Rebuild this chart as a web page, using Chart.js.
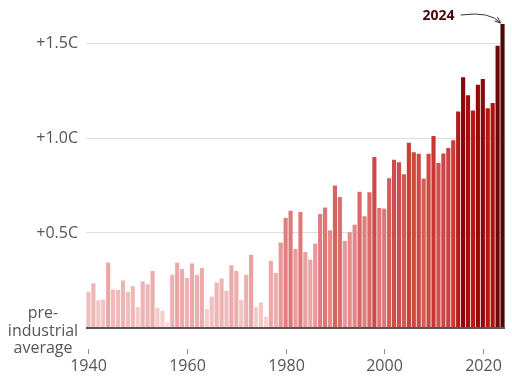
<!DOCTYPE html>
<html>
<head>
<meta charset="utf-8">
<script src="https://cdn.jsdelivr.net/npm/chart.js@4/dist/chart.umd.min.js"></script>
<style>
  body { margin: 0; background: #fff; }
  canvas { display: block; }
</style>
</head>
<body>
<canvas id="chart" width="512" height="379"></canvas>
<script>
// years 1940 - 2024
const years = [
    1940, 1941, 1942, 1943, 1944, 1945, 1946, 1947, 1948, 1949,
    1950, 1951, 1952, 1953, 1954, 1955, 1956, 1957, 1958, 1959,
    1960, 1961, 1962, 1963, 1964, 1965, 1966, 1967, 1968, 1969,
    1970, 1971, 1972, 1973, 1974, 1975, 1976, 1977, 1978, 1979,
    1980, 1981, 1982, 1983, 1984, 1985, 1986, 1987, 1988, 1989,
    1990, 1991, 1992, 1993, 1994, 1995, 1996, 1997, 1998, 1999,
    2000, 2001, 2002, 2003, 2004, 2005, 2006, 2007, 2008, 2009,
    2010, 2011, 2012, 2013, 2014, 2015, 2016, 2017, 2018, 2019,
    2020, 2021, 2022, 2023, 2024
];

// warming above pre-industrial average, degrees C
const anomaly = [
    0.19, 0.235, 0.146, 0.15, 0.344, 0.203, 0.20, 0.25, 0.19, 0.22,
    0.11, 0.245, 0.23, 0.30, 0.107, 0.09, 0.03, 0.28, 0.344, 0.31,
    0.263, 0.34, 0.28, 0.316, 0.10, 0.165, 0.24, 0.26, 0.195, 0.33,
    0.30, 0.147, 0.28, 0.385, 0.11, 0.135, 0.06, 0.353, 0.29, 0.45,
    0.58, 0.617, 0.416, 0.61, 0.40, 0.36, 0.444, 0.60, 0.634, 0.514,
    0.75, 0.69, 0.458, 0.504, 0.544, 0.717, 0.588, 0.714, 0.90, 0.632,
    0.628, 0.788, 0.886, 0.872, 0.809, 0.975, 0.925, 0.917, 0.787, 0.917,
    1.01, 0.868, 0.919, 0.947, 0.988, 1.14, 1.32, 1.225, 1.145, 1.28,
    1.31, 1.156, 1.184, 1.485, 1.60
];

const yTicks = [0, 0.5, 1.0, 1.5];
const yTickLabels = ['pre-\nindustrial\naverage', '+0.5C', '+1.0C', '+1.5C'];
const xTickYears = [1940, 1960, 1980, 2000, 2020];
const highlightYear = 2024;

// colour ramp by value
const rampStops = [
    [0.0, [249, 222, 222]],
    [0.2, [240, 186, 186]],
    [0.4, [233, 160, 160]],
    [0.6, [224, 124, 124]],
    [0.8, [212, 90, 87]],
    [1.0, [201, 58, 53]],
    [1.1, [197, 31, 21]],
    [1.2, [176, 16, 16]],
    [1.3, [143, 8, 8]],
    [1.5, [110, 6, 6]],
    [1.6, [78, 7, 7]]
];

const rampColor = (v) => {
    for (let i = 1; i < rampStops.length; i++) {
        const [v1, c1] = rampStops[i];
        const [v0, c0] = rampStops[i - 1];
        if (v <= v1) {
            const t = Math.max(0, (v - v0) / (v1 - v0));
            const c = c0.map((a, k) => Math.round(a + (c1[k] - a) * t));
            return `rgb(${c[0]},${c[1]},${c[2]})`;
        }
    }
    const c = rampStops[rampStops.length - 1][1];
    return `rgb(${c[0]},${c[1]},${c[2]})`;
};

const textColor = '#555555';
const fontFamily = '"Open Sans", "Noto Sans", sans-serif';

const labelsPlugin = {
    id: 'labels',
    afterDraw(chart) {
        const { ctx, scales: { x, y }, chartArea } = chart;
        ctx.save();
        ctx.fillStyle = textColor;
        ctx.font = `16px ${fontFamily}`;

        // y labels
        yTicks.forEach((v, i) => {
            const lines = yTickLabels[i].split('\n');
            const py = y.getPixelForValue(v);
            if (lines.length === 1) {
                ctx.textAlign = 'right';
                ctx.textBaseline = 'middle';
                ctx.fillText(lines[0], chartArea.left - 8, py);
            } else {
                ctx.textAlign = 'center';
                ctx.textBaseline = 'middle';
                const lh = 17.5;
                const start = py + 3 - (lines.length - 1) * lh / 2;
                lines.forEach((l, j) => ctx.fillText(l, 43, start + j * lh));
            }
        });

        // x ticks and labels
        ctx.strokeStyle = '#8a8a8a';
        ctx.lineWidth = 1;
        xTickYears.forEach((yr) => {
            const px = Math.round(x.getPixelForValue(years.indexOf(yr))) + 0.5;
            ctx.beginPath();
            ctx.moveTo(px, chartArea.bottom + 21);
            ctx.lineTo(px, chartArea.bottom + 26);
            ctx.stroke();
            ctx.textAlign = 'center';
            ctx.textBaseline = 'middle';
            ctx.fillText(String(yr), px, chartArea.bottom + 38);
        });

        // baseline
        ctx.strokeStyle = '#555555';
        ctx.lineWidth = 2;
        const by = y.getPixelForValue(0);
        ctx.beginPath();
        ctx.moveTo(chartArea.left, by);
        ctx.lineTo(chartArea.right, by);
        ctx.stroke();

        // 2024 annotation
        const hi = years.indexOf(highlightYear);
        const bx = x.getPixelForValue(hi);
        const bt = y.getPixelForValue(anomaly[hi]);
        ctx.font = `bold 14px ${fontFamily}`;
        ctx.fillStyle = '#4a0808';
        ctx.textAlign = 'right';
        ctx.textBaseline = 'middle';
        ctx.fillText(String(highlightYear), bx - 48, bt - 8);

        ctx.strokeStyle = '#333333';
        ctx.lineWidth = 1;
        const sx = bx - 42, sy = bt - 9;
        const ex = bx - 2, ey = bt - 1;
        ctx.beginPath();
        ctx.moveTo(sx, sy);
        ctx.quadraticCurveTo(bx - 12, sy - 4, ex, ey);
        ctx.stroke();
        ctx.beginPath();
        ctx.moveTo(ex - 6, ey - 2);
        ctx.lineTo(ex, ey);
        ctx.lineTo(ex - 3, ey - 6);
        ctx.stroke();
        ctx.restore();
    }
};

const config = {
    type: 'bar',
    data: {
        labels: years,
        datasets: [{
            data: anomaly,
            backgroundColor: anomaly.map(rampColor),
            borderWidth: 0,
            barPercentage: 0.84,
            categoryPercentage: 1.0
        }]
    },
    options: {
        responsive: false,
        animation: false,
        layout: {
            padding: { left: 86, right: 7, top: 5, bottom: 51 }
        },
        scales: {
            x: {
                display: false
            },
            y: {
                min: 0,
                max: 1.7,
                afterBuildTicks: (scale) => {
                    scale.ticks = yTicks.slice(1).map(v => ({ value: v }));
                },
                afterFit: (scale) => { scale.width = 0; },
                border: { display: false },
                grid: {
                    color: '#dddddd',
                    lineWidth: 1,
                    drawTicks: false
                },
                ticks: { display: false }
            }
        },
        plugins: {
            legend: { display: false },
            tooltip: { enabled: false }
        }
    },
    plugins: [labelsPlugin]
};

new Chart(document.getElementById('chart'), config);
</script>
</body>
</html>
